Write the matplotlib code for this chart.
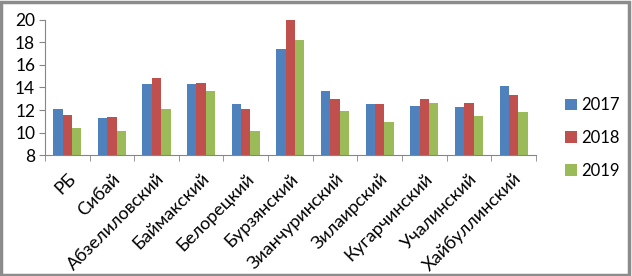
import numpy as np
import matplotlib.pyplot as plt
from matplotlib.patches import Rectangle

regions = ['РБ', 'Сибай', 'Абзелиловский', 'Баймакский', 'Белорецкий', 'Бурзянский',
           'Зианчуринский', 'Зилаирский', 'Кугарчинский', 'Учалинский', 'Хайбуллинский']
y2017 = [12.1, 11.3, 14.3, 14.3, 12.5, 17.4, 13.7, 12.5, 12.4, 12.3, 14.1]
y2018 = [11.6, 11.4, 14.8, 14.4, 12.1, 20.0, 13.0, 12.5, 13.0, 12.6, 13.3]
y2019 = [10.4, 10.1, 12.1, 13.7, 10.1, 18.2, 11.9, 10.9, 12.6, 11.5, 11.8]
years = ['2017', '2018', '2019']
colors = ['#4F81BD', '#C0504D', '#9BBB59']

plt.rcParams['font.family'] = ['Lato', 'DejaVu Sans']

fig = plt.figure(figsize=(6.32, 2.76), dpi=100)
ax = fig.add_axes([0.071, 0.438, 0.777, 0.49])

x = np.arange(len(regions))
w = 0.21
for i, (vals, lab, c) in enumerate(zip([y2017, y2018, y2019], years, colors)):
    ax.bar(x + (i - 1) * w, vals, w, color=c, label=lab, zorder=2)

ax.set_ylim(8, 20)
ax.set_yticks(range(8, 21, 2))
ax.set_xlim(-0.5, len(regions) - 0.5)
ax.set_xticks(x)
ax.set_xticklabels(regions, rotation=45, ha='right', rotation_mode='anchor', fontsize=13)
ax.tick_params(axis='x', length=0, pad=11)
ax.set_xticks(np.arange(-0.5, len(regions)), minor=True)
ax.tick_params(axis='x', which='minor', length=4, color='#868686')
ax.tick_params(axis='y', labelsize=12.5, length=4, color='#868686', pad=3)
for s in ['top', 'right']:
    ax.spines[s].set_visible(False)
for s in ['left', 'bottom']:
    ax.spines[s].set_color('#868686')
    ax.spines[s].set_linewidth(0.8)

fig.legend(loc='center left', bbox_to_anchor=(0.87, 0.50), frameon=False,
           fontsize=12, handlelength=0.7, handleheight=0.7, handletextpad=0.3,
           labelspacing=1.0)

fig.patches.append(Rectangle((0.002, 0.004), 0.994, 0.99, transform=fig.transFigure,
                             fill=False, edgecolor='#8c8c8c', linewidth=2.5))

fig.savefig('out.png', dpi=100)
